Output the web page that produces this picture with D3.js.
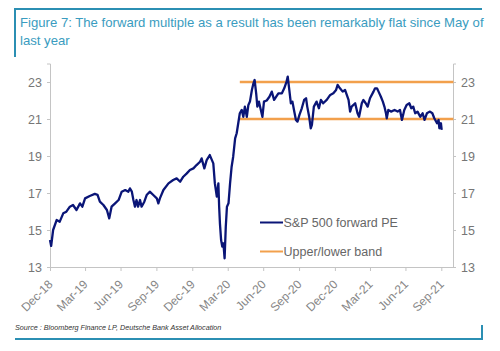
<!DOCTYPE html>
<html>
<head>
<meta charset="utf-8">
<script src="https://cdn.jsdelivr.net/npm/d3@7"></script>
<style>
  body { margin: 0; background: #fff; }
  svg { display: block; font-family: "Liberation Sans", Arial, sans-serif; }
</style>
</head>
<body>
<div id="chart"></div>
<script>
// S&P 500 forward PE
const dates = [
  '2018-12-31','2019-01-03','2019-01-08','2019-01-17','2019-01-25','2019-02-03','2019-02-11','2019-02-20','2019-02-28',
  '2019-03-09','2019-03-18','2019-03-24','2019-03-31','2019-04-12','2019-04-25','2019-05-02','2019-05-08','2019-05-17',
  '2019-05-26','2019-06-01','2019-06-07','2019-06-16','2019-06-25','2019-07-03','2019-07-12','2019-07-20','2019-07-24',
  '2019-07-29','2019-08-02','2019-08-06','2019-08-10','2019-08-14','2019-08-19','2019-08-23','2019-08-30','2019-09-05',
  '2019-09-13','2019-09-22','2019-10-01','2019-10-05','2019-10-09','2019-10-18','2019-10-31','2019-11-12','2019-11-21',
  '2019-11-30','2019-12-08','2019-12-17','2019-12-25','2020-01-03','2020-01-11','2020-01-20','2020-01-24','2020-01-31',
  '2020-02-06','2020-02-14','2020-02-23','2020-02-27','2020-03-03','2020-03-07','2020-03-09','2020-03-11','2020-03-14',
  '2020-03-17','2020-03-20','2020-03-23','2020-03-26','2020-03-29','2020-04-02','2020-04-06','2020-04-10','2020-04-14',
  '2020-04-19','2020-04-23','2020-04-27','2020-05-01','2020-05-06','2020-05-10','2020-05-14','2020-05-19','2020-05-23',
  '2020-05-27','2020-06-01','2020-06-05','2020-06-08','2020-06-12','2020-06-15','2020-06-19','2020-06-24','2020-06-28',
  '2020-07-02','2020-07-09','2020-07-16','2020-07-22','2020-07-28','2020-08-02','2020-08-08','2020-08-17','2020-08-23',
  '2020-08-29','2020-09-01','2020-09-05','2020-09-09','2020-09-13','2020-09-17','2020-09-22','2020-09-26','2020-10-01',
  '2020-10-07','2020-10-13','2020-10-18','2020-10-21','2020-10-26','2020-10-30','2020-11-02','2020-11-07','2020-11-14',
  '2020-11-20','2020-11-25','2020-12-01','2020-12-10','2020-12-19','2020-12-27','2021-01-03','2021-01-07','2021-01-13',
  '2021-01-20','2021-01-26','2021-02-04','2021-02-08','2021-02-12','2021-02-21','2021-02-27','2021-03-03','2021-03-10',
  '2021-03-14','2021-03-20','2021-03-25','2021-03-31','2021-04-09','2021-04-13','2021-04-18','2021-04-22','2021-04-28',
  '2021-05-03','2021-05-07','2021-05-11','2021-05-13','2021-05-17','2021-05-24','2021-06-02','2021-06-10','2021-06-16',
  '2021-06-21','2021-06-27','2021-07-03','2021-07-10','2021-07-15','2021-07-20','2021-07-25','2021-07-31','2021-08-07',
  '2021-08-13','2021-08-18','2021-08-24','2021-09-01','2021-09-07','2021-09-12','2021-09-19','2021-09-23','2021-09-25',
  '2021-09-29','2021-10-01'
];
const forwardPE = [
  14.46,14.14,15.0,15.54,15.45,15.9,15.99,16.26,16.35,
  16.08,16.44,16.26,16.71,16.84,16.95,16.9,16.53,16.35,
  16.08,15.63,16.26,16.44,16.62,17.07,17.16,17.07,17.25,
  17.07,16.62,16.26,16.62,16.26,16.62,16.26,16.53,16.89,
  17.07,16.89,16.71,16.44,16.71,17.16,17.52,17.7,17.79,
  17.61,17.88,18.06,18.24,18.33,18.51,18.69,18.87,18.33,
  18.78,19.05,18.6,17.52,16.8,17.52,16.26,15.36,14.46,
  14.1,14.28,13.47,15.18,16.26,16.44,17.52,18.42,18.96,
  19.95,20.23,20.77,21.31,21.49,21.12,21.67,21.12,21.76,
  21.94,22.57,22.93,23.11,22.39,21.67,21.94,21.49,21.12,
  21.94,22.0,22.2,22.48,22.03,22.2,22.39,22.39,22.66,
  23.02,23.29,22.57,21.85,21.94,21.49,20.95,20.86,21.22,
  21.58,22.03,22.12,21.67,21.12,20.5,20.68,21.67,21.94,
  21.58,22.03,21.85,22.03,22.3,22.39,22.57,22.84,22.66,
  22.48,22.57,22.03,21.4,21.67,21.85,21.31,21.12,21.85,
  22.03,21.85,21.67,22.12,22.48,22.66,22.66,22.48,22.2,
  21.94,21.67,21.31,21.04,21.49,21.4,21.49,21.4,21.49,
  20.95,21.49,21.76,21.85,21.58,21.67,21.31,21.4,21.12,
  21.31,20.95,21.31,21.4,21.31,21.04,20.77,20.95,20.5,
  20.77,20.41
];

// band lines
const bandDates = ['2020-05-01', '2021-10-31'];
const bandLevels = [23, 21];

// axes
const xDomain = ['2018-12-31', '2021-10-30'];
const xTickDates = ['2018-12-31','2019-03-31','2019-06-30','2019-09-30','2019-12-31','2020-03-31',
  '2020-06-30','2020-09-30','2020-12-31','2021-03-31','2021-06-30','2021-09-30'];
const yTicks = [13, 15, 17, 19, 21, 23];

const titleLines = [
  'Figure 7: The forward multiple as a result has been remarkably flat since May of',
  'last year'
];
const sourceText = 'Source : Bloomberg Finance LP, Deutsche Bank Asset Allocation';
const legendItems = [
  { label: 'S&P 500 forward PE', color: '#0a1577' },
  { label: 'Upper/lower band', color: '#f2a04c' }
];

const width = 500, height = 351;
const margin = { top: 63.5, right: 47, bottom: 84, left: 50 };
const parse = d3.timeParse('%Y-%m-%d');
const fmt = d3.timeFormat('%b-%y');
const axisGrey = '#c4c4c4';
const textGrey = '#767676';
const frameBlue = '#2b8fb3';

const svg = d3.select('#chart').append('svg')
  .attr('width', width)
  .attr('height', height);

// Title frame
svg.append('line')
  .attr('x1', 14).attr('x2', 482).attr('y1', 9).attr('y2', 9)
  .attr('stroke', frameBlue).attr('stroke-width', 2);
svg.append('line')
  .attr('x1', 15).attr('x2', 15).attr('y1', 8).attr('y2', 57)
  .attr('stroke', frameBlue).attr('stroke-width', 2);

svg.append('g')
  .selectAll('text')
  .data(titleLines)
  .enter()
  .append('text')
  .attr('x', 20)
  .attr('y', (d, i) => 27 + i * 18)
  .attr('font-size', 13.15)
  .attr('fill', '#3a9cc0')
  .text(d => d);

const x = d3.scaleTime()
  .domain(xDomain.map(parse))
  .range([margin.left, width - margin.right]);

const y = d3.scaleLinear()
  .domain([13, 24])
  .range([height - margin.bottom, margin.top]);

// Left axis
const yAxisL = svg.append('g')
  .attr('transform', `translate(${margin.left},0)`)
  .call(d3.axisLeft(y).tickValues(yTicks).tickSize(3).tickPadding(5));
// Right axis
const yAxisR = svg.append('g')
  .attr('transform', `translate(${width - margin.right},0)`)
  .call(d3.axisRight(y).tickValues(yTicks).tickSize(3).tickPadding(5));

[yAxisL, yAxisR].forEach(ax => {
  ax.select('.domain').attr('stroke', axisGrey);
  ax.selectAll('.tick line').attr('stroke', axisGrey);
  ax.selectAll('.tick text')
    .attr('font-size', 12.5)
    .attr('fill', textGrey)
    .attr('font-family', '"Liberation Sans", Arial, sans-serif');
});

// Bottom axis
const xAxis = svg.append('g')
  .attr('transform', `translate(0,${height - margin.bottom})`)
  .call(d3.axisBottom(x).tickValues(xTickDates.map(parse)).tickFormat(fmt).tickSize(4).tickSizeOuter(0));
xAxis.select('.domain').attr('stroke', axisGrey);
xAxis.selectAll('.tick line').attr('stroke', axisGrey);
xAxis.selectAll('.tick text')
  .attr('font-size', 12)
  .attr('fill', '#858585')
  .attr('font-family', '"Liberation Sans", Arial, sans-serif')
  .attr('text-anchor', 'end')
  .attr('dy', null)
  .attr('transform', 'translate(3,18) rotate(-45)')
  .attr('y', 0)
  .attr('x', 0);

// Band lines
bandLevels.forEach(level => {
  svg.append('line')
    .attr('x1', x(parse(bandDates[0])))
    .attr('x2', x(parse(bandDates[1])))
    .attr('y1', y(level))
    .attr('y2', y(level))
    .attr('stroke', legendItems[1].color)
    .attr('stroke-width', 2.5);
});

// PE line
const series = dates.map((d, i) => ({ date: parse(d), value: forwardPE[i] }));
svg.append('path')
  .datum(series)
  .attr('fill', 'none')
  .attr('stroke', legendItems[0].color)
  .attr('stroke-width', 2.3)
  .attr('stroke-linejoin', 'round')
  .attr('d', d3.line().x(d => x(d.date)).y(d => y(d.value)));

// Legend
const legend = svg.append('g')
  .attr('transform', 'translate(260, 222.5)');
const items = legend.selectAll('g')
  .data(legendItems)
  .enter()
  .append('g')
  .attr('transform', (d, i) => `translate(0, ${i * 29})`);
items.append('line')
  .attr('x1', 0).attr('x2', 23)
  .attr('stroke', d => d.color)
  .attr('stroke-width', 2);
items.append('text')
  .attr('x', 23.5)
  .attr('dy', '0.35em')
  .attr('font-size', 12.5)
  .attr('fill', '#666')
  .text(d => d.label);

// Source + bottom frame
svg.append('text')
  .attr('x', 15)
  .attr('y', 330)
  .attr('font-size', 7.2)
  .attr('font-style', 'italic')
  .attr('fill', '#333')
  .text(sourceText);
svg.append('line')
  .attr('x1', 15).attr('x2', 483).attr('y1', 339).attr('y2', 339)
  .attr('stroke', frameBlue).attr('stroke-width', 2);
svg.append('line')
  .attr('x1', 482).attr('x2', 482).attr('y1', 325).attr('y2', 340)
  .attr('stroke', frameBlue).attr('stroke-width', 2);
</script>
</body>
</html>
